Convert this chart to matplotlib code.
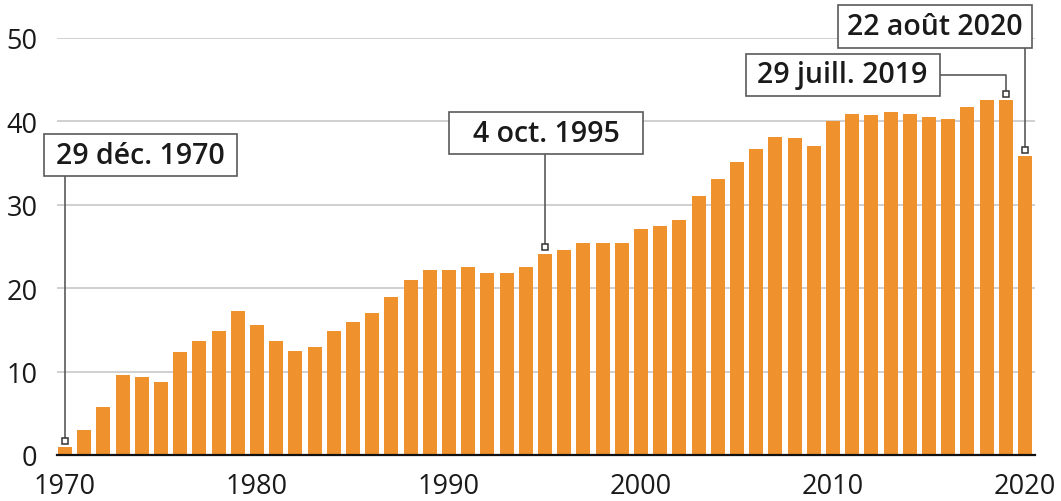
import numpy as np
import matplotlib
matplotlib.use("Agg")
import matplotlib.pyplot as plt
from matplotlib.patches import Rectangle

plt.rcParams["font.family"] = ["Open Sans", "DejaVu Sans"]

years = list(range(1970, 2021))
values = [
    0.9, 3.0, 5.7, 9.6, 9.3, 8.8, 12.3, 13.7, 14.8, 17.3,
    15.6, 13.7, 12.5, 12.9, 14.9, 15.9, 17.0, 18.9, 21.0, 22.2,
    22.2, 22.5, 21.8, 21.8, 22.5, 24.1, 24.6, 25.4, 25.4, 25.4,
    27.1, 27.4, 28.2, 31.0, 33.1, 35.1, 36.7, 38.1, 38.0, 37.0,
    40.0, 40.8, 40.7, 41.1, 40.8, 40.5, 40.3, 41.7, 42.5, 42.5,
    35.8,
]

# callouts: label, year of the bar, label centre (x, y)
callout_labels = ["29 déc. 1970", "4 oct. 1995", "29 juill. 2019", "22 août 2020"]
callout_years = [1970, 1995, 2019, 2020]
callout_pos = [(1973.93, 35.9), (1995.05, 38.56), (2010.5, 45.57), (2015.3, 51.34)]

BAR = "#ef922e"
EDGE = "#5a5a5a"
TXT = "#1a1a1a"

fig = plt.figure(figsize=(10.61, 5.02), dpi=100)
ax = fig.add_axes([57 / 1061, 46 / 502, (1035 - 57) / 1061, 417.3 / 502])

ax.bar(years, values, width=0.73, color=BAR, zorder=2)

ax.set_xlim(1969.58, 2020.52)
ax.set_ylim(0, 50)
ax.set_yticks(np.arange(0, 51, 10))
ax.set_xticks(np.arange(1970, 2021, 10))
ax.grid(axis="y", color="#c8c8c8", linewidth=1.2, zorder=0)
ax.set_axisbelow(True)
for s in ["top", "right", "left"]:
    ax.spines[s].set_visible(False)
ax.spines["bottom"].set_color("#111111")
ax.spines["bottom"].set_linewidth(1.6)
ax.spines["bottom"].set_zorder(3)
ax.tick_params(axis="both", length=0, labelsize=19.5, colors=TXT)
ax.tick_params(axis="y", pad=14)
ax.tick_params(axis="x", pad=12)

# fixed-size label boxes, in data units
box_w, box_h = 10.1, 5.05
val = dict(zip(years, values))
for label, yr, (cx, cy) in zip(callout_labels, callout_years, callout_pos):
    ax.add_patch(Rectangle((cx - box_w / 2, cy - box_h / 2), box_w, box_h,
                           facecolor="white", edgecolor=EDGE, linewidth=1.2,
                           clip_on=False, zorder=5))
    ax.text(cx, cy, label, ha="center", va="center", fontsize=20.5,
            fontweight="semibold", color=TXT, zorder=6, clip_on=False)
    tip = val[yr] + 0.8
    if yr == 2019:
        xs = [cx + box_w / 2, yr, yr]
        ys = [cy, cy, tip]
    else:
        xs = [yr, yr]
        ys = [cy - box_h / 2, tip]
    ax.plot(xs, ys, color=EDGE, linewidth=1.2, zorder=4, clip_on=False)
    ax.plot([yr], [tip], marker="s", markersize=5, markerfacecolor="white",
            markeredgecolor="#333333", markeredgewidth=1.1, zorder=6, clip_on=False)

fig.savefig("out.png", dpi=100)
